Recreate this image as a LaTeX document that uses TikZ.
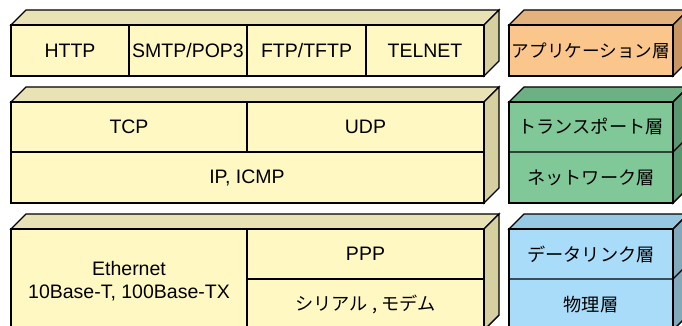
\documentclass[tikz,border=0pt]{standalone}
\usepackage{fontspec}
\setmainfont{Liberation Sans}
\newfontfamily\jfont{Noto Sans CJK JP}

% face colours: front / top / side
\definecolor{yfront}{RGB}{255,248,194}
\definecolor{ytop}{RGB}{232,226,180}
\definecolor{yside}{RGB}{214,208,160}
\definecolor{ofront}{RGB}{250,198,140}
\definecolor{otop}{RGB}{228,178,124}
\definecolor{oside}{RGB}{200,150,100}
\definecolor{gfront}{RGB}{128,200,152}
\definecolor{gtop}{RGB}{108,176,132}
\definecolor{gside}{RGB}{90,150,112}
\definecolor{bfront}{RGB}{168,220,248}
\definecolor{btop}{RGB}{150,200,226}
\definecolor{bside}{RGB}{130,168,188}

% a slab seen in oblique view: #1,#2 = front top-left, #3,#4 = front bottom-right
\newcommand\slab[7]{%
  \filldraw[edge,fill=#6] (#1,#2) -- ++(15,-15) -- (#3+15,#2-15) -- (#3,#2) -- cycle;
  \filldraw[edge,fill=#7] (#3,#2) -- (#3+15,#2-15) -- (#3+15,#4-15) -- (#3,#4) -- cycle;
  \filldraw[edge,fill=#5] (#1,#2) rectangle (#3,#4);
}

\begin{document}
\begin{tikzpicture}[x=1pt,y=-1pt,
  edge/.style={draw=black,line width=1.4pt,line join=miter},
  divider/.style={draw=black,line width=1.2pt},
  lbl/.style={font=\fontsize{19.5}{23}\selectfont,align=center,inner sep=0pt},
  jlbl/.style={font=\jfont\fontsize{18.2}{22}\selectfont,inner sep=0pt}]
\useasboundingbox (0,0) rectangle (682,326);
\clip (0,0) rectangle (682,326);

% application row
\slab{11}{25}{484}{76}{yfront}{ytop}{yside}
\draw[divider] (129,25) -- (129,76) (247,25) -- (247,76) (366,25) -- (366,76);
\slab{509}{25}{673}{76}{ofront}{otop}{oside}

% transport / network rows
\slab{11}{102}{484}{203}{yfront}{ytop}{yside}
\draw[divider] (11,152) -- (484,152) (247,102) -- (247,152);
\slab{509}{102}{673}{203}{gfront}{gtop}{gside}
\draw[divider] (509,152) -- (673,152) (673,152) -- (688,137);

% data link / physical rows
\slab{11}{229}{484}{330}{yfront}{ytop}{yside}
\draw[divider] (247,229) -- (247,330) (247,279) -- (484,279);
\slab{509}{229}{673}{330}{bfront}{btop}{bside}
\draw[divider] (509,279) -- (673,279) (673,279) -- (688,264);

% protocol labels
\node[lbl] (http) at (70,50.5) {HTTP};
\node[lbl] (smtp) at (188,50.5) {SMTP/POP3};
\node[lbl] (ftp) at (306.5,50.5) {FTP/TFTP};
\node[lbl] (telnet) at (425,50.5) {TELNET};
\node[lbl] (tcp) at (129,127) {TCP};
\node[lbl] (udp) at (365.5,127) {UDP};
\node[lbl] (ip) at (247,178) {IP, ICMP};
\node[lbl] (eth) at (129,281) {Ethernet\\10Base-T, 100Base-TX};
\node[lbl] (ppp) at (365.5,254) {PPP};
\node[jlbl] (serial) at (365.5,304.5) {シリアル , モデム};

% layer names
\node[jlbl,font=\jfont\fontsize{17.6}{22}\selectfont] (app) at (591,50.5) {アプリケーション層};
\node[jlbl] (trans) at (591,127) {トランスポート層};
\node[jlbl] (net) at (591,178) {ネットワーク層};
\node[jlbl] (link) at (591,254) {データリンク層};
\node[jlbl] (phys) at (591,304.5) {物理層};
\end{tikzpicture}
\end{document}
